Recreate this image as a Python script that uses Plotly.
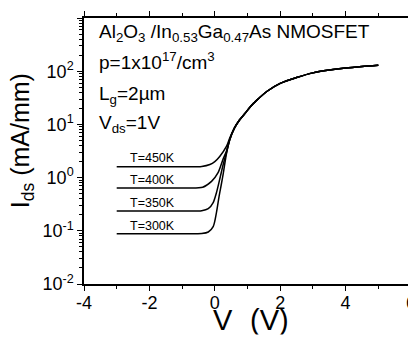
import math
import plotly.graph_objects as go

# ---- data ----
temps = ["T=300K", "T=350K", "T=400K", "T=450K"]

v_300 = [-3.0, -1.0, -0.4, -0.2, -0.05, 0.05, 0.13, 0.2, 0.26, 0.36, 0.46, 0.6, 0.75, 0.92, 1.1, 1.27, 1.6, 2.0, 2.5, 3.0, 3.5, 4.0, 4.5, 5.0]
i_300 = [0.088, 0.088, 0.089, 0.095, 0.12, 0.22, 0.44, 0.75, 1.2, 2.9, 5.2, 8.5, 12, 16, 22, 28, 42, 59, 76, 93, 105, 115, 123, 130]

v_350 = [-3.0, -1.0, -0.4, -0.2, -0.05, 0.05, 0.17, 0.26, 0.36, 0.46, 0.6, 0.75, 0.92, 1.1, 1.27, 1.6, 2.0, 2.5, 3.0, 3.5, 4.0, 4.5, 5.0]
i_350 = [0.235, 0.235, 0.238, 0.26, 0.34, 0.52, 1.05, 1.8, 3.0, 5.2, 8.5, 12, 16, 22, 28, 42, 59, 76, 93, 105, 115, 123, 130]

v_400 = [-3.0, -1.0, -0.37, -0.1, 0.1, 0.25, 0.36, 0.46, 0.6, 0.75, 0.92, 1.1, 1.27, 1.6, 2.0, 2.5, 3.0, 3.5, 4.0, 4.5, 5.0]
i_400 = [0.64, 0.64, 0.66, 0.85, 1.24, 2.2, 3.2, 5.3, 8.5, 12, 16, 22, 28, 42, 59, 76, 93, 105, 115, 123, 130]

v_450 = [-3.0, -1.0, -0.4, -0.15, 0.0, 0.15, 0.36, 0.46, 0.6, 0.75, 0.92, 1.1, 1.27, 1.6, 2.0, 2.5, 3.0, 3.5, 4.0, 4.5, 5.0]
i_450 = [1.6, 1.6, 1.62, 1.76, 2.0, 2.5, 3.9, 5.6, 8.6, 12, 16, 22, 28, 42, 59, 76, 93, 105, 115, 123, 130]

label_x = -2.66
label_i = [0.125, 0.33, 0.92, 2.3]

y_tickvals = [0.01, 0.1, 1, 10, 100, 1000]
y_ticktext = ["10<sup>-2</sup>", "10<sup>-1</sup>", "10<sup>0</sup>", "10<sup>1</sup>", "10<sup>2</sup>", "10<sup>3</sup>"]
x_tickvals = [-4, -2, 0, 2, 4, 6]
x_ticktext = ["-4", "-2", "0", "2", "4", "6"]

FONT = "Liberation Sans, Arial, sans-serif"

fig = go.Figure()
for v, i in [(v_300, i_300), (v_350, i_350), (v_400, i_400), (v_450, i_450)]:
    fig.add_trace(go.Scatter(x=v, y=i, mode="lines",
                             line=dict(color="black", width=1.5, shape="spline", smoothing=0.8),
                             showlegend=False, hoverinfo="skip"))

minor_y = [m * 10 ** e for e in range(-2, 3) for m in range(2, 10)]

# page body has an 8px default margin, so margins are offset by 8px
fig.update_layout(
    width=416, height=339,
    margin=dict(l=76, r=13, t=10, b=63, autoexpand=False),
    paper_bgcolor="white", plot_bgcolor="white",
    font=dict(family=FONT, color="black", size=18),
    xaxis=dict(range=[-4, 6], tickvals=x_tickvals, ticktext=x_ticktext, automargin=False,
               showline=True, linecolor="black", linewidth=1.5, mirror="ticks",
               ticks="outside", ticklen=5, tickwidth=1.2, tickcolor="black",
               ticklabelstandoff=-3,
               showgrid=False, zeroline=False,
               minor=dict(tickvals=[-3, -1, 1, 3, 5], ticks="outside", ticklen=3, tickcolor="black", showgrid=False),
               tickfont=dict(size=18)),
    yaxis=dict(type="log", range=[-2, 3], tickvals=y_tickvals, ticktext=y_ticktext, automargin=False,
               showline=True, linecolor="black", linewidth=1.5, mirror="ticks",
               ticks="outside", ticklen=5, tickwidth=1.2, tickcolor="black",
               showgrid=False, zeroline=False,
               minor=dict(tickvals=minor_y, ticks="outside", ticklen=3, tickcolor="black", showgrid=False),
               tickfont=dict(size=18)),
)

# y-axis title
fig.add_annotation(text="I<sub>ds</sub> (mA/mm)", xref="paper", yref="paper",
                   x=-0.19, y=0.54, textangle=-90, showarrow=False,
                   xanchor="center", yanchor="middle", font=dict(size=25))
# x-axis title: "V_gs (V)"; the subscript lies in the cropped strip at the bottom, as in the reference
fig.add_annotation(text="V", xref="paper", yref="paper",
                   x=0.425, y=-0.0695, showarrow=False, xanchor="center", yanchor="top",
                   font=dict(size=29))
fig.add_annotation(text="gs", xref="paper", yref="paper",
                   x=0.482, y=-0.195, showarrow=False, xanchor="center", yanchor="top",
                   font=dict(size=20))
fig.add_annotation(text="(V)", xref="paper", yref="paper",
                   x=0.566, y=-0.0695, showarrow=False, xanchor="center", yanchor="top",
                   font=dict(size=29))
fig.add_annotation(text=" ", xref="paper", yref="paper", x=0.5, y=-0.188,
                   xanchor="center", yanchor="top", showarrow=False,
                   width=520, height=30, bgcolor="white", borderpad=0)

# device info text
info = [
    ("Al<sub>2</sub>O<sub>3</sub> /In<sub>0.53</sub>Ga<sub>0.47</sub>As NMOSFET", 0.945),
    ("p=1x10<sup>17</sup>/cm<sup>3</sup>", 0.84),
    ("L<sub>g</sub>=2\u00b5m", 0.71),
    ("V<sub>ds</sub>=1V", 0.60),
]
for txt, yy in info:
    fig.add_annotation(text=txt, xref="paper", yref="paper", x=0.04, y=yy,
                       xanchor="left", yanchor="middle", showarrow=False,
                       font=dict(size=19))

for t, li in zip(temps, label_i):
    fig.add_annotation(text=t, x=label_x, y=math.log10(li), xref="x", yref="y",
                       xanchor="left", yanchor="middle", showarrow=False,
                       font=dict(size=12.5))

fig.write_html("out.html")
